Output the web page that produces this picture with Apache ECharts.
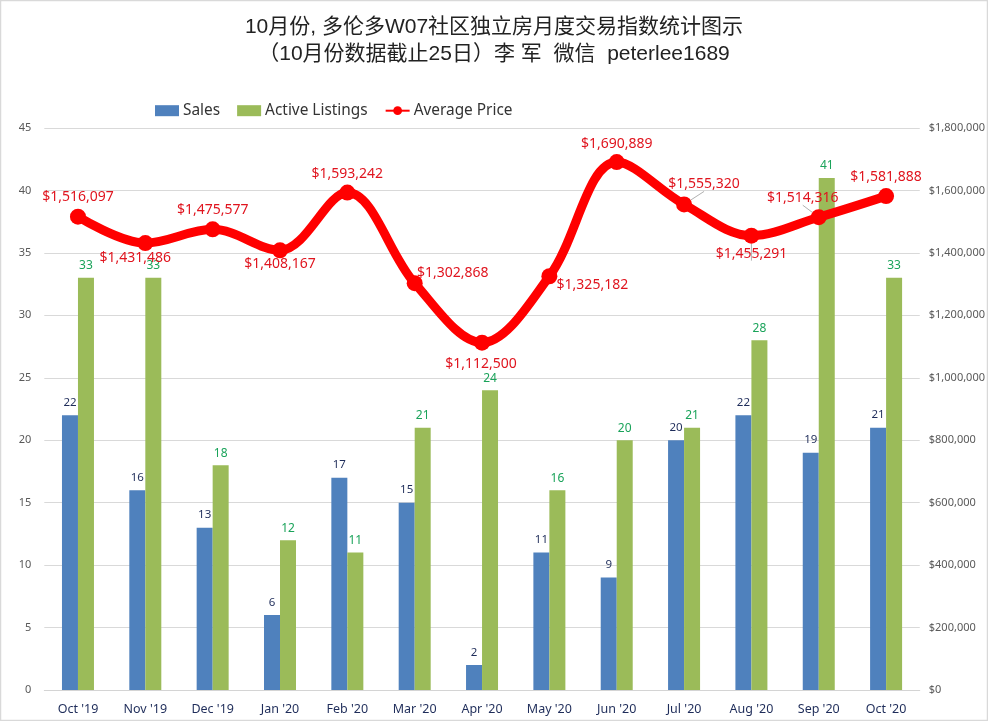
<!DOCTYPE html>
<html><head><meta charset="utf-8">
<style>html,body{margin:0;padding:0;background:#fff}#c{width:988px;height:721px}</style>
<script src="https://cdn.jsdelivr.net/npm/echarts@6/dist/echarts.min.js"></script>
</head><body><div id="c"></div>
<script>
const categories = ["Oct '19","Nov '19","Dec '19","Jan '20","Feb '20","Mar '20","Apr '20","May '20","Jun '20","Jul '20","Aug '20","Sep '20","Oct '20"];
const sales = [22,16,13,6,17,15,2,11,9,20,22,19,21];
const listings = [33,33,18,12,11,21,24,16,20,21,28,41,33];
const prices = [1516097,1431486,1475577,1408167,1593242,1302868,1112500,1325182,1690889,1555320,1455291,1514316,1581888];
const priceLabelOffsets = [[0,-20],[-10,15],[0,-19],[0,14],[0,-19],[38,-10],[-1,21],[43,9],[0,-18],[20,-20],[0,18],[-16,-19],[0,-19]];
const leaderPoints = [9,10,11];
const titleText = "10月份, 多伦多W07社区独立房月度交易指数统计图示\n（10月份数据截止25日）李 军  微信  peterlee1689";
const usd = v => '$' + String(v).replace(/\B(?=(\d{3})+$)/g, ',');
const font = '"Noto Sans","Noto Sans CJK SC",sans-serif';
const chart = echarts.init(document.getElementById('c'), null, {renderer:'canvas'});
chart.setOption({
  animation:false,
  backgroundColor:'#fff',
  graphic:[{type:'rect',silent:true,z:-1,shape:{x:0.5,y:0.5,width:987,height:720},style:{fill:null,stroke:'#d9d9d9',lineWidth:1.5}}],
  title:{text:titleText,left:'center',top:9,textStyle:{fontFamily:'"Liberation Sans","Noto Sans CJK SC",sans-serif',fontSize:21,fontWeight:'normal',color:'#222',lineHeight:27}},
  legend:{left:150,top:98,itemGap:17,itemWidth:24,itemHeight:11,
    textStyle:{fontFamily:font,fontSize:15.4,color:'#333',padding:[0,0,0,-1]},
    data:[{name:'Sales',icon:'rect'},{name:'Active Listings',icon:'rect'},{name:'Average Price'}]},
  grid:{left:44.3,right:67.3,top:128,bottom:31,containLabel:false},
  xAxis:{type:'category',data:categories,axisTick:{show:false},
    axisLine:{lineStyle:{color:'#d4d4d4'}},
    axisLabel:{color:'#1f2d5a',fontFamily:font,fontSize:12.5,margin:13,interval:0}},
  yAxis:[
    {type:'value',min:0,max:45,interval:5,axisLine:{show:false},axisTick:{show:false},
     splitLine:{lineStyle:{color:'#d9d9d9'}},
     axisLabel:{color:'#595959',fontFamily:font,fontSize:11,margin:13}},
    {type:'value',min:0,max:1800000,interval:200000,axisLine:{show:false},axisTick:{show:false},
     splitLine:{show:false},
     axisLabel:{color:'#595959',fontFamily:font,fontSize:11,margin:9,formatter:usd}}
  ],
  series:[
    {name:'Sales',type:'bar',data:sales,barWidth:16,barGap:'0%',itemStyle:{color:'#4f81bd'},
     label:{show:true,position:'top',distance:7,color:'#1f2d5a',fontFamily:font,fontSize:11.5}},
    {name:'Active Listings',type:'bar',data:listings,barWidth:16,itemStyle:{color:'#9bbb59'},
     label:{show:true,position:'top',distance:6,color:'#1aa35a',fontFamily:font,fontSize:12}},
    {name:'Average Price',type:'line',yAxisIndex:1,smooth:0.35,data:prices.map((v,i)=>({
        value:v,
        label:{offset:priceLabelOffsets[i]},
        labelLine:{show:leaderPoints.includes(i),lineStyle:{color:'#b0b0b0',width:1}}
      })),
     z:5,symbol:'circle',symbolSize:16,showAllSymbol:true,
     lineStyle:{color:'#ff0000',width:9},itemStyle:{color:'#ff0000'},
     label:{show:true,position:'inside',color:'#e0141e',fontFamily:font,fontSize:14,formatter:p=>usd(p.value)}}
  ]
});
</script></body></html>
